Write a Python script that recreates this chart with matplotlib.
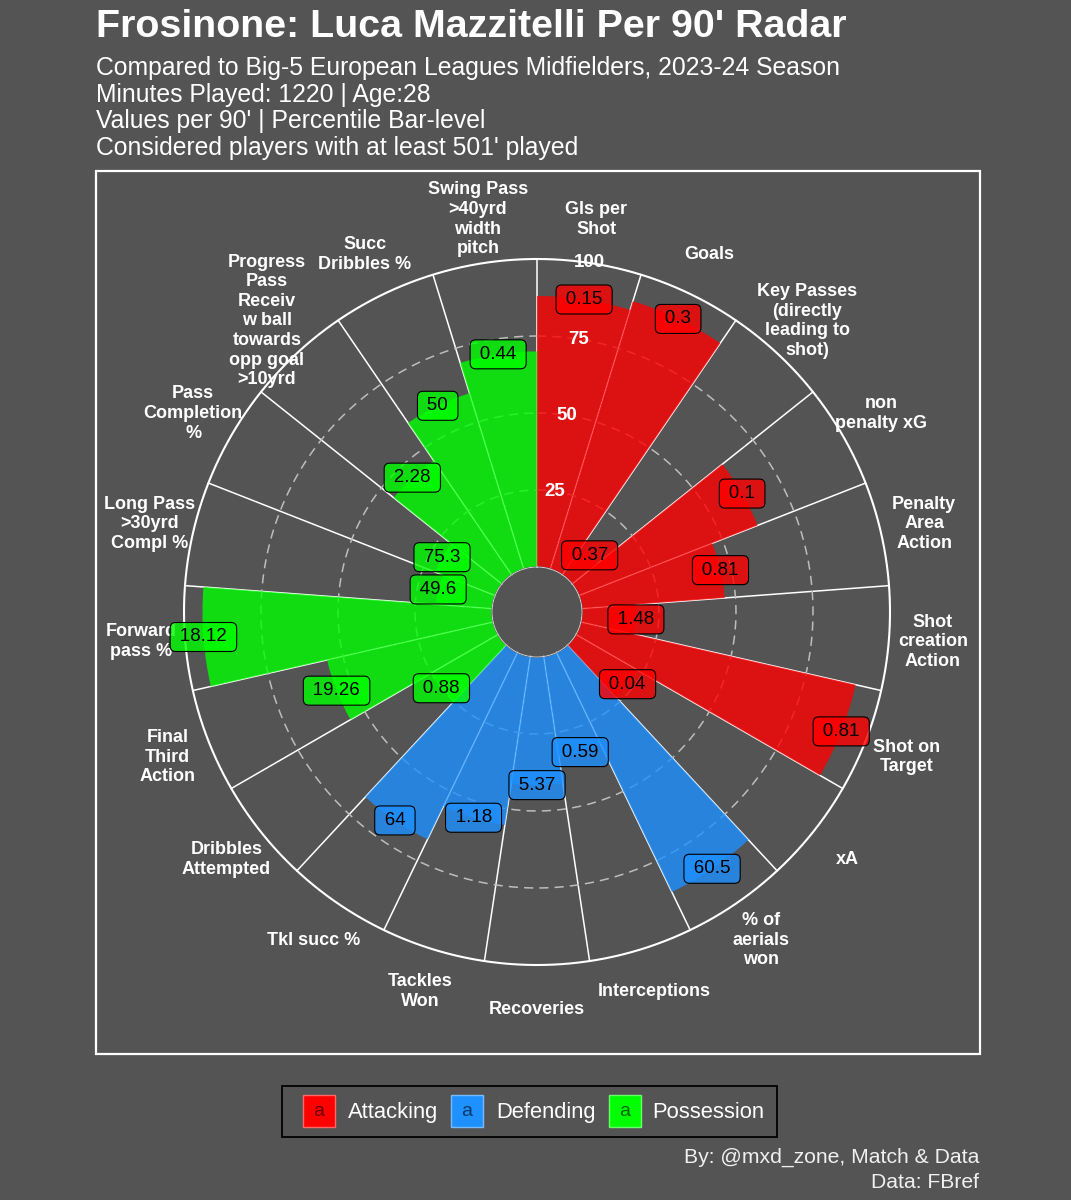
import numpy as np
import matplotlib
matplotlib.use("Agg")
import matplotlib.pyplot as plt
from matplotlib.patches import Rectangle
from matplotlib.colors import to_rgba

plt.rcParams['font.family'] = ['Liberation Sans', 'DejaVu Sans']

# ---------------- data ----------------
categories = [
    "Gls per\nShot", "Goals", "Key Passes\n(directly\nleading to\nshot)", "non\npenalty xG",
    "Penalty\nArea\nAction", "Shot\ncreation\nAction", "Shot on\nTarget", "xA",
    "% of\naerials\nwon", "Interceptions", "Recoveries", "Tackles\nWon", "Tkl succ %",
    "Dribbles\nAttempted", "Final\nThird\nAction", "Forward\npass %",
    "Long Pass\n>30yrd\nCompl %", "Pass\nCompletion\n%",
    "Progress\nPass\nReceiv\nw ball\ntowards\nopp goal\n>10yrd",
    "Succ\nDribbles %", "Swing Pass\n>40yrd\nwidth\npitch",
]
groups = ["Attacking"] * 8 + ["Defending"] * 5 + ["Possession"] * 8
percentiles = [88, 91, 10.5, 62.3, 46.5, 17.6, 91.5, 23,
               86.3, 33, 41.6, 55.3, 67.3,
               25.1, 55.3, 94, 18.3, 21, 44.9, 59.7, 70]
value_labels = ["0.15", "0.3", "0.37", "0.1", "0.81", "1.48", "0.81", "0.04",
                "60.5", "0.59", "5.37", "1.18", "64",
                "0.88", "19.26", "18.12", "49.6", "75.3", "2.28", "50", "0.44"]
group_names = ["Attacking", "Defending", "Possession"]
group_colors = ["#FF0000", "#1E90FF", "#00FF00"]
radial_ticks = [25, 50, 75, 100]

title = "Frosinone: Luca Mazzitelli Per 90' Radar"
subtitle_lines = ["Compared to Big-5 European Leagues Midfielders, 2023-24 Season",
                  "Minutes Played: 1220 | Age:28",
                  "Values per 90' | Percentile Bar-level",
                  "Considered players with at least 501' played"]
caption_lines = ["By: @mxd_zone, Match & Data", "Data: FBref"]

# ---------------- layout ----------------
BG = "#545454"
W, H, DPI = 1071, 1200, 100
fig = plt.figure(figsize=(W / DPI, H / DPI), dpi=DPI, facecolor=BG)


def fx(px):
    return px / W


def fy(py):
    return 1 - py / H


cx, cy, R = 537, 612, 353
ax = fig.add_axes([fx(cx - R), fy(cy + R), 2 * R / W, 2 * R / H], projection='polar')
ax.set_theta_zero_location('N')
ax.set_theta_direction(-1)
ax.set_ylim(0, 100)
ax.set_rorigin(-14.6)
ax.set_facecolor(BG)
ax.grid(False)
ax.set_xticks([])
ax.set_yticks([])
for s in ax.spines.values():
    s.set_visible(False)

n = len(categories)
width = 2 * np.pi / n
theta = (np.arange(n) + 0.5) * width
cmap = dict(zip(group_names, group_colors))
colors = [cmap[g] for g in groups]

# separators
for k in range(n):
    ax.plot([k * width, k * width], [0, 100], color='white', lw=1.1, zorder=1, clip_on=False)
tt = np.linspace(0, 2 * np.pi, 500)
for v in radial_ticks[:-1]:
    ax.plot(tt, np.full_like(tt, v), color='#BDBDBD', lw=1.1, ls=(0, (6, 4)), zorder=1)

# bars
ax.bar(theta, percentiles, width=width, bottom=0, color=colors, alpha=0.8,
       linewidth=0, zorder=2)

# circles
ax.plot(tt, np.zeros_like(tt), color='#CFCFCF', lw=0.8, zorder=3, clip_on=False)
ax.plot(tt, np.full_like(tt, 100), color='white', lw=1.5, zorder=3, clip_on=False)

# radial tick labels
for v in radial_ticks:
    ax.text(theta[0], v, str(v), ha='center', va='center', color='white',
            fontweight='bold', fontsize=13.5, zorder=4)

# category labels
for i in range(n):
    ax.text(theta[i], 114.3, categories[i], ha='center', va='center', color='white',
            fontweight='bold', fontsize=13, linespacing=1.2, zorder=4)

# value labels
for i in range(n):
    ax.text(theta[i], percentiles[i], "\u2009" + value_labels[i] + "\u2009",
            ha='center', va='center', fontsize=13.5, color='black', zorder=6,
            bbox=dict(boxstyle='round,pad=0.32,rounding_size=0.3',
                      fc=to_rgba(colors[i], 0.8), ec='black', lw=0.8))

# panel border
fig.add_artist(Rectangle((fx(96), fy(1054)), fx(980) - fx(96), fy(171) - fy(1054),
                         transform=fig.transFigure, fill=False, ec='white', lw=1.6))

# title & subtitle
fig.text(fx(96), fy(37), title, ha='left', va='baseline', color='white',
         fontweight='bold', fontsize=28.4)
for j, line in enumerate(subtitle_lines):
    fig.text(fx(96), fy(75 + j * 26.7), line, ha='left', va='baseline', color='white',
             fontsize=17.8)

# caption
for j, line in enumerate(caption_lines):
    fig.text(fx(979), fy(1163 + j * 25.5), line, ha='right', va='baseline',
             color='#F0F0F0', fontsize=15.2)

# legend
fig.add_artist(Rectangle((fx(282), fy(1137)), fx(777) - fx(282), fy(1086) - fy(1137),
                         transform=fig.transFigure, fill=False, ec='black', lw=1.3))
key_x = [303, 451, 609]
text_x = [348, 496, 652]
for name, col, kx, tx in zip(group_names, group_colors, key_x, text_x):
    light = tuple(0.6 * np.array(to_rgba(col)[:3]) + 0.4)
    fig.add_artist(Rectangle((fx(kx), fy(1127)), fx(32), 32 / H, transform=fig.transFigure,
                             fc=col, ec=light, lw=1.0))
    fig.text(fx(kx + 16), fy(1111), "a", ha='center', va='center', color='black',
             alpha=0.6, fontsize=14)
    fig.text(fx(tx), fy(1118), name, ha='left', va='baseline', color='white', fontsize=15.8)

fig.savefig("out.png", dpi=DPI, facecolor=BG)
